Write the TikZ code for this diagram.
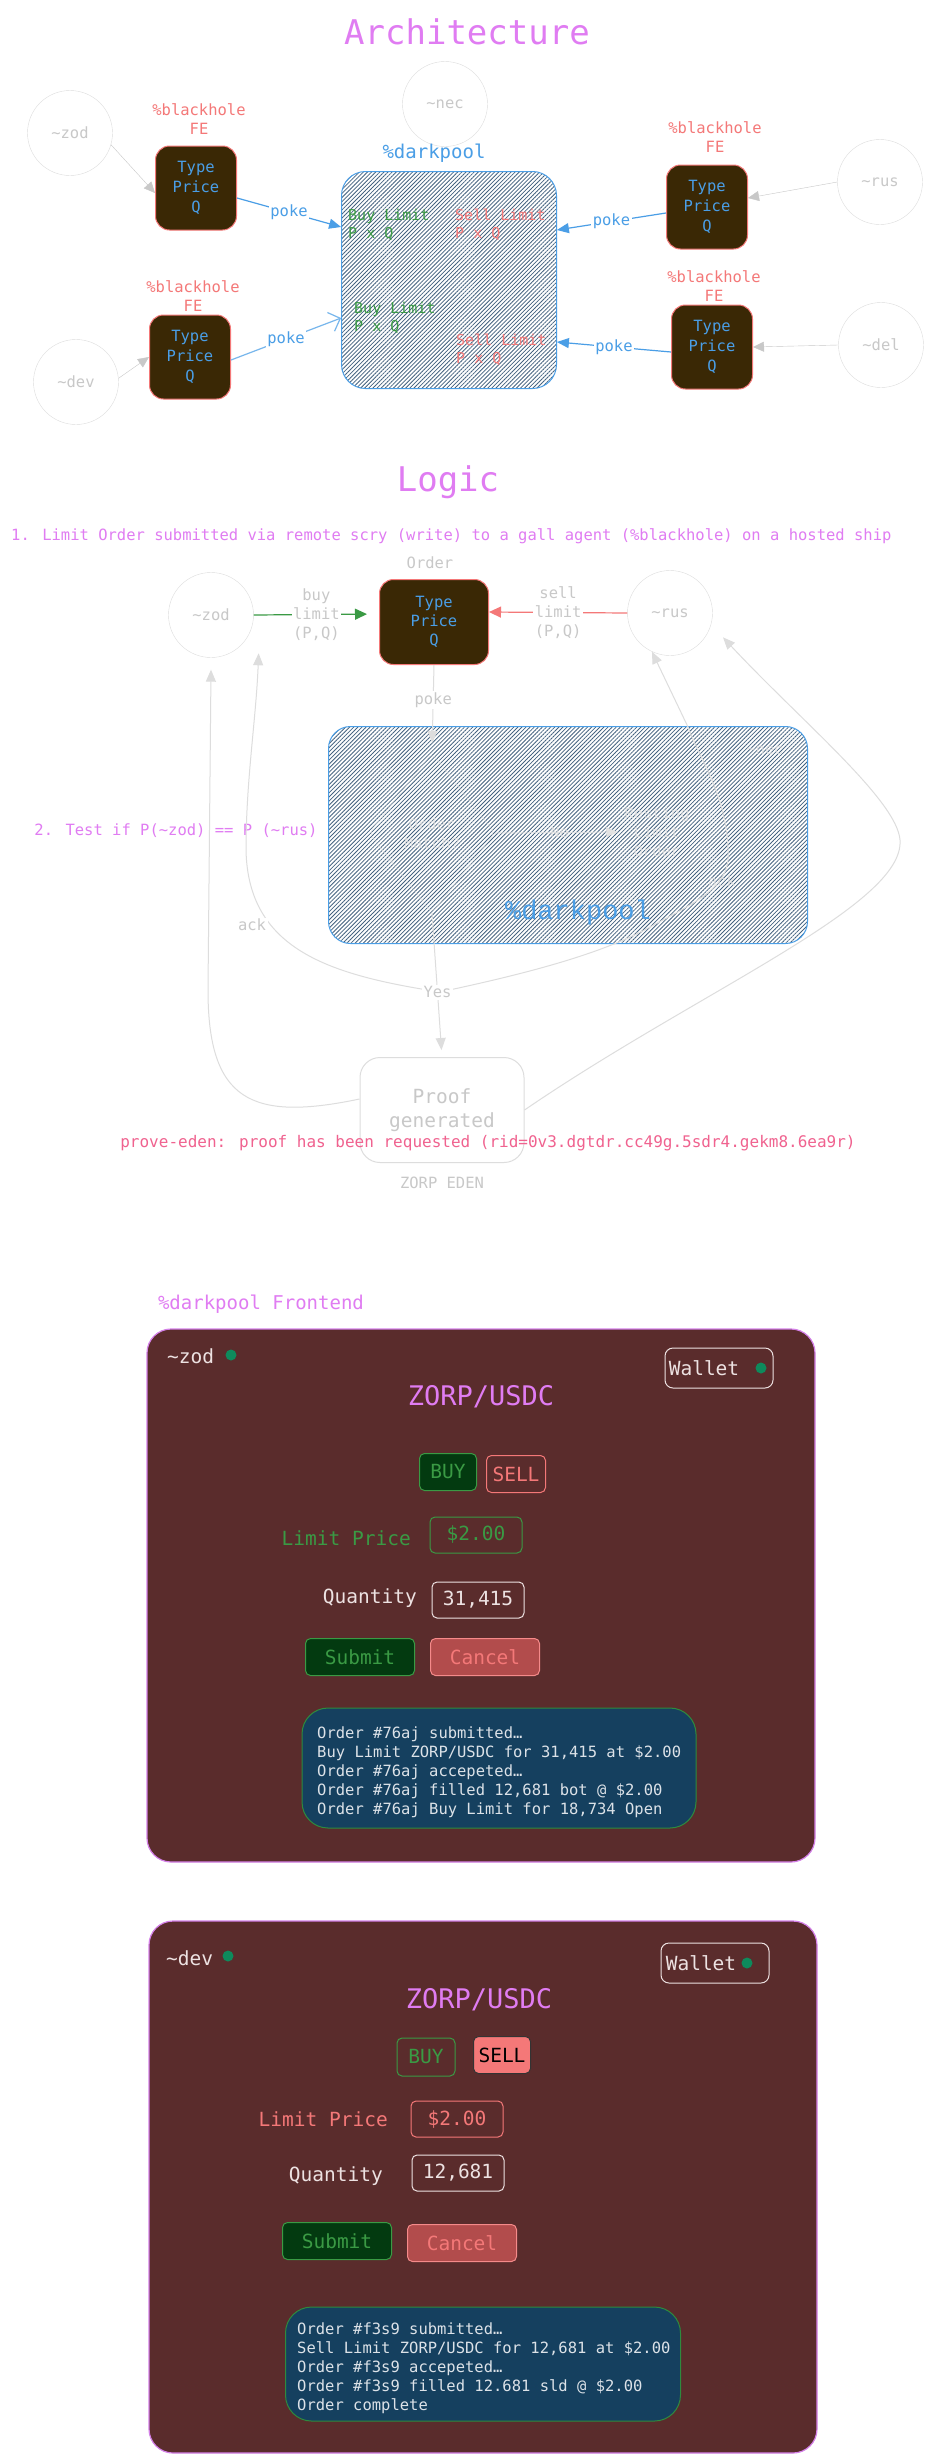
\documentclass[tikz,border=0pt]{standalone}
\usepackage{fontspec}
\setmainfont{DejaVu Sans Mono}
\newfontfamily\courier{Liberation Mono}
\usepackage{tikz}
\usetikzlibrary{arrows.meta,patterns.meta,shapes.geometric}

\definecolor{titlevio}{HTML}{E07CF2}
\definecolor{salmon}{HTML}{F47878}
\definecolor{poolblue}{HTML}{4A9EE6}
\definecolor{okgreen}{HTML}{3A9A44}
\definecolor{shipline}{HTML}{DDDDDD}
\definecolor{shiptext}{HTML}{C8C8C8}
\definecolor{agentfill}{HTML}{3A2805}
\definecolor{hatch}{HTML}{44627F}
\definecolor{innerline}{HTML}{E2E2E2}
\definecolor{panelfill}{HTML}{5A2C2C}
\definecolor{panelline}{HTML}{D480E8}
\definecolor{logfill}{HTML}{15405F}
\definecolor{logline}{HTML}{2E8B3E}
\definecolor{buyfill}{HTML}{033A10}
\definecolor{cancelfill}{HTML}{B24C4C}
\definecolor{cancelline}{HTML}{F58A8A}
\definecolor{dotgreen}{HTML}{0E8A5C}
\definecolor{lighttext}{HTML}{EDE2E2}
\definecolor{logink}{HTML}{DCE2E8}
\definecolor{edenpink}{HTML}{F0628F}

\newcommand\fsz[2]{\fontsize{#1}{#2}\selectfont}
\newcommand\tld{\textasciitilde}

\tikzset{
  every node/.style={inner sep=0pt},
  bigtitle/.style={text=titlevio,font=\fsz{34}{40}},
  note/.style={text=titlevio,font=\fsz{15.5}{19}},
  ship/.style={circle,draw=shipline,text=shiptext,minimum size=85pt,font=\fsz{15.5}{19}},
  agent/.style={draw=salmon,fill=agentfill,text=poolblue,rounded corners=14pt,line width=1pt,
    minimum width=81pt,minimum height=84pt,align=center,font=\fsz{15.5}{20}},
  agentlbl/.style={text=salmon,align=center,font=\fsz{15.5}{19}},
  pool/.style={draw=poolblue,line width=1pt,rounded corners=24pt,
    pattern={Lines[angle=45,distance=2.9pt,line width=0.8pt]},pattern color=hatch},
  orderlbl/.style={align=left,anchor=west,font=\fsz{15}{18}},
  pokelbl/.style={fill=white,text=poolblue,inner sep=1.5pt,font=\fsz{15.5}{19}},
  shiparrow/.style={draw=shiptext,-{Triangle[length=11pt,width=10pt]}},
  pokearrow/.style={draw=poolblue,line width=1.2pt,-{Triangle[length=12pt,width=10pt]}},
  fadelbl/.style={fill=white,text=shiptext,inner sep=1.5pt,align=center,font=\fsz{15.5}{19}},
  fadearrow/.style={draw=shipline,line width=1pt,-{Triangle[length=12pt,width=10pt]}},
  buyarrow/.style={draw=okgreen,line width=1.2pt,-{Triangle[length=12pt,width=11pt]}},
  poolnote/.style={text=innerline,text opacity=0.75,align=center,font=\courier\fsz{15.5}{19}},
  panel/.style={fill=panelfill,draw=panelline,line width=1.2pt,rounded corners=24pt},
  fetext/.style={text=lighttext,font=\fsz{19.5}{23}},
  btn/.style={rounded corners=5pt,line width=1pt,minimum height=37pt,font=\fsz{19.5}{23}},
  walletbox/.style={draw=lighttext,rounded corners=8pt,line width=1pt,minimum width=108pt,minimum height=40pt},
  leddot/.style={circle,fill=dotgreen,minimum size=11pt},
  logbox/.style={fill=logfill,draw=logline,line width=1pt,rounded corners=26pt},
  logtext/.style={text=logink,align=left,anchor=north west,font=\fsz{15.5}{19}}
}

\begin{document}
\begin{tikzpicture}[x=1pt,y=-1pt]
\fill[white] (0,0) rectangle (929,2463);
\useasboundingbox (0,0) rectangle (929,2463);

% architecture
\node[bigtitle] (archtitle) at (467,32) {Architecture};
\node[ship] (azod) at (70,133) {\tld zod};
\node[ship] (anec) at (445,104) {\tld nec};
\node[ship] (arus) at (880,182) {\tld rus};
\node[ship] (adev) at (76,382) {\tld dev};
\node[ship] (adel) at (881,345) {\tld del};
\node[agent] (bzod) at (196,188) {Type\\Price\\Q};
\node[agent] (bdev) at (190,357) {Type\\Price\\Q};
\node[agent] (brus) at (707,207) {Type\\Price\\Q};
\node[agent] (bdel) at (712,347) {Type\\Price\\Q};
\node[agentlbl] (fezod) at (199,119) {\%blackhole\\FE};
\node[agentlbl] (fedev) at (193,296) {\%blackhole\\FE};
\node[agentlbl] (ferus) at (715,137) {\%blackhole\\FE};
\node[agentlbl] (fedel) at (714,286) {\%blackhole\\FE};
\node[pool,minimum width=215pt,minimum height=217pt] (apool) at (449,280) {};
\node[text=poolblue,font=\fsz{19}{22}] (apoollbl) at (434,153) {\%darkpool};
\node[orderlbl,text=okgreen] (abuyone) at (348,225) {Buy Limit\\P x Q};
\node[orderlbl,text=salmon] (asellone) at (455,225) {Sell Limit\\P x Q};
\node[orderlbl,text=okgreen] (abuytwo) at (354,318) {Buy Limit\\P x Q};
\node[orderlbl,text=salmon] (aselltwo) at (456,350) {Sell Limit\\P x Q};
\draw[shiparrow] (azod.-16) -- ([yshift=-5pt]bzod.west);
\draw[shiparrow] (adev.5) -- (bdev.west);
\draw[shiparrow] (arus.west) -- ([yshift=9pt]brus.east);
\draw[shiparrow] (adel.west) -- (bdel.east);
\draw[pokearrow] ([yshift=-10pt]bzod.east) -- node[pokelbl] (pkzod) {poke} ([yshift=53pt]apool.west);
\draw[pokearrow,draw=poolblue!75,-{Straight Barb[length=10pt,width=20pt]}] ([yshift=-3pt]bdev.east)
  -- node[pokelbl] (pkdev) {poke} ([yshift=-38pt]apool.west);
\draw[pokearrow] ([yshift=-6pt]brus.west) -- node[pokelbl] (pkrus) {poke} ([yshift=50pt]apool.east);
\draw[pokearrow] ([yshift=-5pt]bdel.west) -- node[pokelbl] (pkdel) {poke} ([yshift=-62pt]apool.east);

% logic
\node[bigtitle] (logictitle) at (448,482) {Logic};
\node[note,anchor=west] (stepone) at (11,536) {1. Limit Order submitted via remote scry (write) to a gall agent (\%blackhole) on a hosted ship};
\node[note] (steptwo) at (176,831) {2. Test if P(\tld zod) == P (\tld rus)};
\node[ship] (lzod) at (211,615) {\tld zod};
\node[ship] (lrus) at (670,613) {\tld rus};
\node[agent,minimum width=109pt,minimum height=85pt,font=\fsz{15.5}{19}] (lorder) at (434,622) {Type\\Price\\Q};
\node[fadelbl,fill=none] (lorderlbl) at (430,563) {Order};
\node[pool,minimum width=479pt,minimum height=217pt,rounded corners=22pt] (lpool) at (568,835) {};
\node[poolnote] (lnec) at (765,750) {\tld nec};
\node[diamond,draw=innerline,draw opacity=0.75,rounded corners=6pt,minimum width=126pt,minimum height=160pt,poolnote] (lmatch) at (432,833) {Order\\Match?};
\node[poolnote] (lrest) at (657,832) {Resting\\Limit\\Order};
\node[poolnote] (lacktwo) at (722,881) {ack};
\node[text=poolblue,font=\courier\fsz{27}{30}] (lpoollbl) at (578,913) {\%darkpool};
\node[draw=shipline,line width=1pt,rounded corners=20pt,minimum width=164pt,minimum height=105pt,
  text=shiptext,align=center,font=\fsz{19.5}{24}] (lproof) at (442,1110) {Proof\\generated};
\node[fadelbl,fill=none] (leden) at (442,1183) {ZORP EDEN};
\draw[draw=innerline,draw opacity=0.75,line width=1pt,-{Triangle[length=12pt,width=10pt]},shorten >=6pt] (lmatch.east)
  -- node[poolnote] (lno) {No} (lrest.west);
\draw[buyarrow,shorten >=12pt] (lzod.east) -- node[fadelbl] (lbuy) {buy\\limit\\(P,Q)} ([yshift=8pt]lorder.west);
\draw[buyarrow,draw=salmon] (lrus.west) -- node[fadelbl] (lsell) {sell\\limit\\(P,Q)} ([yshift=10pt]lorder.east);
\draw[fadearrow,shorten >=10pt] (lorder.south) -- node[fadelbl,pos=0.4] (lpoke) {poke} (lmatch.north);
\draw[fadearrow,{Triangle[length=12pt,width=10pt]}-{Triangle[length=12pt,width=10pt]}]
  ([shift={(14pt,-12pt)}]lzod.-38) .. controls (256,720) and (246,780) .. (246,850)
  .. controls (248,950) and (330,975) .. (440,992)
  .. controls (520,975) and (600,955) .. (650,927)
  .. controls (690,905) and (725,890) .. (728,860)
  .. controls (730,800) and (700,760) .. (688,727) -- (lrus.-115);
\node[fadelbl] (lack) at (252,925) {ack};
\draw[fadearrow] ([yshift=11pt]lproof.west) .. controls (250,1122) and (208,1100) .. (208,990)
  -- ([yshift=-12pt]lzod.south);
\draw[fadearrow] (lproof.east) .. controls (700,990) and (905,905) .. (900,840)
  .. controls (897,800) and (800,720) .. ([shift={(14pt,-7pt)}]lrus.-24);
\draw[fadearrow,shorten >=7pt] (lmatch.south) -- node[fadelbl,pos=0.55] (lyes) {Yes} (lproof.north);
\node[text=edenpink,font=\fsz{16}{19}] (lprove) at (488,1143) {prove-eden: proof has been requested (rid=0v3.dgtdr.cc49g.5sdr4.gekm8.6ea9r)};

% frontend ~zod
\node[note,font=\fsz{19}{22}] (fetitle) at (261,1304) {\%darkpool Frontend};
\node[panel,minimum width=668pt,minimum height=533pt] (zpanel) at (481,1595.5) {};
\node[fetext,anchor=west] (zname) at (167,1356) {\tld zod};
\node[leddot] (zdot) at (231,1355) {};
\node[walletbox] (zwallet) at (719,1368) {};
\node[fetext] (zwtext) at (704,1368) {Wallet};
\node[leddot] (zwdot) at (761,1368) {};
\node[text=titlevio,font=\fsz{27}{30}] (zpair) at (481,1397) {ZORP/USDC};
\node[btn,fill=buyfill,draw=okgreen,text=okgreen,minimum width=57pt] (zbuy) at (448,1472) {BUY};
\node[btn,draw=salmon,text=salmon,minimum width=59pt] (zsell) at (516,1474) {SELL};
\node[fetext,text=okgreen,anchor=east] (zlimit) at (411,1538) {Limit Price};
\node[btn,draw=okgreen,text=okgreen,minimum width=92pt,minimum height=36pt] (zprice) at (476,1535) {\$2.00};
\node[fetext,anchor=east] (zqtylbl) at (417,1598) {Quantity};
\node[btn,draw=lighttext,text=lighttext,minimum width=92pt,minimum height=36pt] (zqty) at (478,1600) {31,415};
\node[btn,fill=buyfill,draw=okgreen,text=okgreen,minimum width=109pt] (zsubmit) at (360,1657) {Submit};
\node[btn,fill=cancelfill,draw=cancelline,text=salmon,minimum width=109pt] (zcancel) at (485,1657) {Cancel};
\node[logbox,minimum width=394pt,minimum height=120pt] (zlog) at (499,1768) {};
\node[logtext] (zlogtext) at (317,1726) {Order \#76aj submitted…\\Buy Limit ZORP/USDC for 31,415 at \$2.00\\Order \#76aj accepeted…\\Order \#76aj filled 12,681 bot @ \$2.00\\Order \#76aj Buy Limit for 18,734 Open};

% frontend ~dev
\node[panel,minimum width=668pt,minimum height=532pt] (dpanel) at (483,2187) {};
\node[fetext,anchor=west] (dname) at (166,1958) {\tld dev};
\node[leddot] (ddot) at (228,1956) {};
\node[walletbox] (dwallet) at (715,1963) {};
\node[fetext] (dwtext) at (701,1963) {Wallet};
\node[leddot] (dwdot) at (747,1963) {};
\node[text=titlevio,font=\fsz{27}{30}] (dpair) at (479,2000) {ZORP/USDC};
\node[btn,draw=okgreen,text=okgreen,minimum width=58pt,minimum height=38pt] (dbuy) at (426,2057) {BUY};
\node[btn,fill=salmon,draw=black!80,text=black,minimum width=57pt] (dsell) at (502,2055) {SELL};
\node[fetext,text=salmon,anchor=east] (dlimit) at (388,2119) {Limit Price};
\node[btn,draw=salmon,text=salmon,minimum width=92pt,minimum height=36pt] (dprice) at (457,2119) {\$2.00};
\node[fetext,anchor=east] (dqtylbl) at (383,2176) {Quantity};
\node[btn,draw=lighttext,text=lighttext,minimum width=92pt,minimum height=36pt] (dqty) at (458,2173) {12,681};
\node[btn,fill=buyfill,draw=okgreen,text=okgreen,minimum width=109pt] (dsubmit) at (337,2241) {Submit};
\node[btn,fill=cancelfill,draw=cancelline,text=salmon,minimum width=109pt] (dcancel) at (462,2243) {Cancel};
\node[logbox,minimum width=395pt,minimum height=114pt] (dlog) at (483,2364) {};
\node[logtext] (dlogtext) at (297,2322) {Order \#f3s9 submitted…\\Sell Limit ZORP/USDC for 12,681 at \$2.00\\Order \#f3s9 accepeted…\\Order \#f3s9 filled 12.681 sld @ \$2.00\\Order complete};
\end{tikzpicture}
\end{document}
